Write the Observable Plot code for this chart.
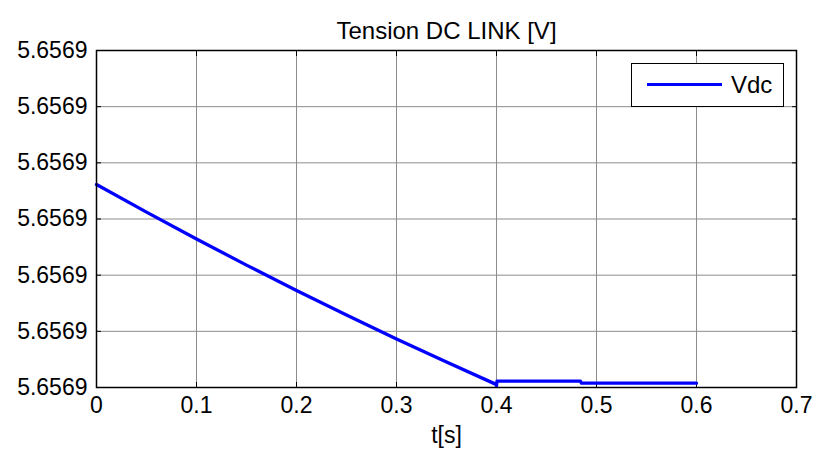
<!DOCTYPE html>
<html>
<head>
<meta charset="utf-8">
<script src="https://cdn.jsdelivr.net/npm/d3@7"></script>
<script src="https://cdn.jsdelivr.net/npm/@observablehq/plot@0.6"></script>
<style>
  html, body { margin: 0; padding: 0; background: #fff; }
  #wrap { position: relative; width: 814px; height: 459px; font-family: "Liberation Sans", Arial, sans-serif; }
  #legend { position: absolute; left: 631px; top: 63px; width: 153px; height: 44px; box-sizing: border-box;
    border: 1px solid #000; background: #fff; }
  #legend .sw { position: absolute; left: 15px; top: 19px; width: 75px; height: 3px; background: #0000ff; }
  #legend .lb { position: absolute; left: 99px; top: 7px; font-size: 24px; line-height: 28px; color: #000; }
</style>
</head>
<body>
<div id="wrap"></div>
<script>
const title = "Tension DC LINK [V]";
const xLabel = "t[s]";
const seriesName = "Vdc";
const xTicks = [0, 0.1, 0.2, 0.3, 0.4, 0.5, 0.6, 0.7];
const yTicks = [5.65685420, 5.65685421, 5.65685422, 5.65685423, 5.65685424, 5.65685425, 5.65685426];
const time = [0, 0.05, 0.1, 0.15, 0.2, 0.25, 0.3, 0.35, 0.399, 0.4, 0.4005, 0.484, 0.485, 0.6];
const vdc = [5.65685423614, 5.65685423123, 5.65685422644, 5.65685422179, 5.65685421727, 5.65685421289,
             5.65685420863, 5.65685420452, 5.65685420060, 5.65685420030, 5.65685420112, 5.65685420112,
             5.65685420077, 5.65685420077];

const data = time.map((t, i) => ({t, v: vdc[i]}));
const fmtY = d3.format(".4f");
const fs = 23;

const plot = Plot.plot({
  width: 814,
  height: 459,
  marginLeft: 96,
  marginRight: 18,
  marginTop: 50,
  marginBottom: 72,
  style: {fontFamily: "'Liberation Sans', Arial, sans-serif", fontSize: fs + "px", background: "#fff", color: "#000"},
  x: {domain: [0, 0.7]},
  y: {domain: [yTicks[0], yTicks[yTicks.length - 1]]},
  marks: [
    Plot.gridX(xTicks, {stroke: "#8c8c8c", strokeOpacity: 1, strokeWidth: 1}),
    Plot.gridY(yTicks, {stroke: "#8c8c8c", strokeOpacity: 1, strokeWidth: 1}),
    Plot.axisX({anchor: "bottom", ticks: xTicks, tickSize: -5, tickPadding: 14, tickFormat: d => String(+d.toFixed(1)), label: null, fontSize: fs}),
    Plot.axisX({anchor: "top", ticks: xTicks, tickSize: -5, tickFormat: () => "", label: null}),
    Plot.axisY({anchor: "left", ticks: yTicks, tickSize: -5, tickPadding: 14, tickFormat: fmtY, label: null, fontSize: fs}),
    Plot.axisY({anchor: "right", ticks: yTicks, tickSize: -5, tickFormat: () => "", label: null}),
    Plot.line(data, {x: "t", y: "v", stroke: "#0000ff", strokeWidth: 3.3, curve: "linear"}),
    Plot.frame({stroke: "#000", strokeWidth: 1.5}),
    Plot.text([title], {frameAnchor: "top", dy: -29, fontSize: 24, fill: "#000"}),
    Plot.text([xLabel], {frameAnchor: "bottom", dy: 55, fontSize: fs, fill: "#000"})
  ]
});

const wrap = document.getElementById("wrap");
wrap.appendChild(plot);
const lg = document.createElement("div");
lg.id = "legend";
lg.innerHTML = '<div class="sw"></div><div class="lb"></div>';
lg.querySelector(".lb").textContent = seriesName;
wrap.appendChild(lg);
</script>
</body>
</html>
